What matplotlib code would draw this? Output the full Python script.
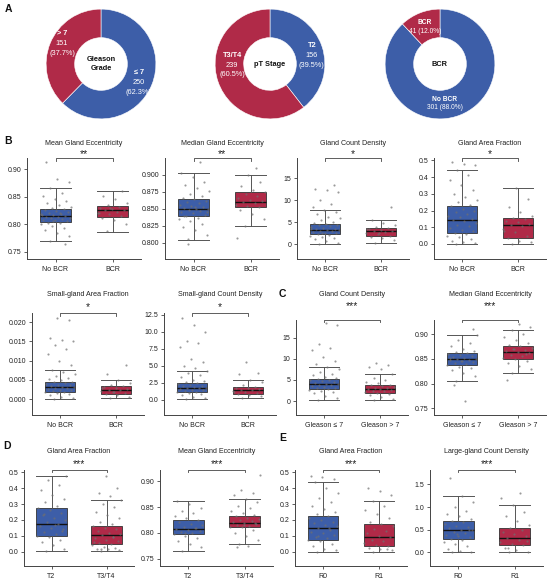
import matplotlib
matplotlib.use('Agg')
import matplotlib.pyplot as plt

plt.rcParams['font.family'] = ['Liberation Sans', 'DejaVu Sans']

W, H = 550, 583
BLUE = '#3d5ea8'
RED = '#b02a48'

# ---------------- donut data ----------------
gleason_labels = ['≤ 7', '> 7']
gleason_counts = [250, 151]
gleason_pcts = [62.3, 37.7]
pt_labels = ['T2', 'T3/T4']
pt_counts = [156, 239]
pt_pcts = [39.5, 60.5]
bcr_labels = ['No BCR', 'BCR']
bcr_counts = [301, 41]
bcr_pcts = [88.0, 12.0]

# ---------------- box panel data ----------------
# box stats: [whislo, q1, med, q3, whishi]
p1_title = 'Mean Gland Eccentricity'
p1_groups = ['No BCR', 'BCR']
p1_box_a = [0.769, 0.804, 0.815, 0.828, 0.865]
p1_box_b = [0.786, 0.814, 0.825, 0.833, 0.861]
p1_pts_a = [0.770, 0.778, 0.785, 0.790, 0.794, 0.797, 0.800, 0.802, 0.803, 0.805, 0.807, 0.808,
            0.810, 0.811, 0.812, 0.813, 0.814, 0.815, 0.816, 0.817, 0.819, 0.820, 0.822, 0.824,
            0.825, 0.827, 0.829, 0.832, 0.835, 0.838, 0.842, 0.846, 0.851, 0.857, 0.865, 0.876,
            0.882, 0.912, 0.765, 0.806, 0.818, 0.821]
p1_pts_b = [0.787, 0.800, 0.808, 0.812, 0.815, 0.818, 0.821, 0.823, 0.825, 0.826, 0.828, 0.830,
            0.832, 0.834, 0.838, 0.845, 0.852, 0.861, 0.829, 0.820]

p2_title = 'Median Gland Eccentricity'
p2_groups = ['No BCR', 'BCR']
p2_box_a = [0.804, 0.839, 0.850, 0.8645, 0.902]
p2_box_b = [0.824, 0.852, 0.860, 0.874, 0.899]
p2_pts_a = [0.805, 0.812, 0.818, 0.823, 0.828, 0.832, 0.835, 0.837, 0.839, 0.841, 0.843, 0.845,
            0.846, 0.848, 0.849, 0.850, 0.851, 0.852, 0.854, 0.856, 0.858, 0.860, 0.862, 0.864,
            0.866, 0.869, 0.872, 0.876, 0.880, 0.885, 0.890, 0.896, 0.902, 0.918, 0.798, 0.845,
            0.853, 0.840]
p2_pts_b = [0.824, 0.835, 0.842, 0.848, 0.852, 0.854, 0.856, 0.858, 0.860, 0.861, 0.863, 0.866,
            0.869, 0.872, 0.874, 0.878, 0.884, 0.890, 0.899, 0.807, 0.910]

p3_title = 'Gland Count Density'
p3_groups = ['No BCR', 'BCR']
p3_box_a = [0.0, 2.28, 3.35, 4.72, 7.9]
p3_box_b = [0.3, 1.83, 3.05, 3.73, 5.6]
p3_pts_a = [0.1, 0.4, 0.8, 1.2, 1.5, 1.8, 2.0, 2.2, 2.3, 2.5, 2.7, 2.9, 3.0, 3.1, 3.2, 3.3, 3.4,
            3.5, 3.7, 3.9, 4.1, 4.3, 4.5, 4.7, 4.9, 5.2, 5.5, 5.9, 6.3, 6.8, 7.3, 7.9, 8.5, 9.2,
            10.0, 12.0, 12.3, 12.5, 13.5, 2.6, 3.6]
p3_pts_b = [0.3, 0.9, 1.4, 1.8, 2.0, 2.3, 2.6, 2.9, 3.0, 3.1, 3.3, 3.5, 3.7, 3.9, 4.3, 4.8, 5.6,
            8.5, 2.5, 3.6]

p4_title = 'Gland Area Fraction'
p4_groups = ['No BCR', 'BCR']
p4_box_a = [0.0, 0.068, 0.142, 0.224, 0.444]
p4_box_b = [0.0, 0.038, 0.114, 0.158, 0.332]
p4_pts_a = [0.0, 0.005, 0.01, 0.02, 0.03, 0.04, 0.05, 0.06, 0.068, 0.075, 0.085, 0.095, 0.105,
            0.115, 0.125, 0.135, 0.142, 0.150, 0.160, 0.170, 0.180, 0.190, 0.200, 0.212, 0.224,
            0.235, 0.25, 0.265, 0.28, 0.30, 0.32, 0.35, 0.38, 0.41, 0.444, 0.47, 0.48, 0.49]
p4_pts_b = [0.0, 0.01, 0.02, 0.035, 0.05, 0.07, 0.09, 0.105, 0.114, 0.12, 0.13, 0.14, 0.15,
            0.158, 0.17, 0.19, 0.22, 0.27, 0.332, 0.08]

p5_title = 'Small-gland Area Fraction'
p5_groups = ['No BCR', 'BCR']
p5_box_a = [0.0, 0.0019, 0.0031, 0.00443, 0.00765]
p5_box_b = [0.0003, 0.0014, 0.0024, 0.0034, 0.0049]
p5_pts_a = [0.0, 0.0003, 0.0007, 0.001, 0.0013, 0.0016, 0.0018, 0.0019, 0.0021, 0.0023, 0.0025,
            0.0027, 0.0029, 0.003, 0.0031, 0.0032, 0.0034, 0.0036, 0.0038, 0.004, 0.0042, 0.0044,
            0.0046, 0.0049, 0.0052, 0.0056, 0.006, 0.0065, 0.0071, 0.0077, 0.0088, 0.0098, 0.0118,
            0.013, 0.014, 0.015, 0.0155, 0.016, 0.0205, 0.021]
p5_pts_b = [0.0003, 0.0007, 0.001, 0.0014, 0.0016, 0.0019, 0.0022, 0.0024, 0.0025, 0.0027, 0.003,
            0.0032, 0.0034, 0.0038, 0.0043, 0.0049, 0.0065, 0.009, 0.002, 0.0029]

p6_title = 'Small-gland Count Density'
p6_groups = ['No BCR', 'BCR']
p6_box_a = [0.1, 1.13, 1.72, 2.45, 4.26]
p6_box_b = [0.34, 0.88, 1.47, 1.86, 2.94]
p6_pts_a = [0.1, 0.3, 0.5, 0.7, 0.9, 1.0, 1.1, 1.2, 1.3, 1.4, 1.5, 1.6, 1.7, 1.75, 1.8, 1.9, 2.0,
            2.1, 2.2, 2.3, 2.45, 2.6, 2.8, 3.0, 3.3, 3.6, 3.9, 4.26, 4.7, 5.0, 5.5, 6.0, 7.8, 8.3,
            8.6, 10.0, 11.0, 12.0]
p6_pts_b = [0.34, 0.6, 0.8, 0.9, 1.0, 1.2, 1.35, 1.47, 1.5, 1.6, 1.7, 1.8, 1.9, 2.2, 2.6, 2.94,
            3.8, 4.0, 5.5, 1.1]

p7_title = 'Gland Count Density'
p7_groups = ['Gleason ≤ 7', 'Gleason > 7']
p7_box_a = [0.2, 2.84, 4.03, 5.29, 8.1]
p7_box_b = [0.2, 1.9, 2.84, 3.7, 6.3]
p7_pts_a = [0.2, 0.8, 1.3, 1.8, 2.2, 2.5, 2.7, 2.84, 3.0, 3.2, 3.4, 3.6, 3.8, 3.9, 4.0, 4.1, 4.3,
            4.5, 4.7, 4.9, 5.1, 5.29, 5.5, 5.8, 6.1, 6.5, 7.0, 7.5, 8.1, 8.8, 9.5, 10.5, 12.0,
            12.5, 13.5, 18.0, 18.5]
p7_pts_b = [0.2, 0.6, 1.0, 1.4, 1.7, 1.9, 2.1, 2.3, 2.5, 2.7, 2.8, 2.9, 3.0, 3.2, 3.4, 3.6, 3.7,
            3.9, 4.2, 4.6, 5.0, 5.5, 6.3, 7.5, 8.0, 8.5, 9.0]

p8_title = 'Median Gland Eccentricity'
p8_groups = ['Gleason ≤ 7', 'Gleason > 7']
p8_box_a = [0.8054, 0.837, 0.849, 0.8615, 0.898]
p8_box_b = [0.822, 0.8507, 0.8649, 0.8764, 0.909]
p8_pts_a = [0.806, 0.815, 0.822, 0.827, 0.831, 0.834, 0.837, 0.839, 0.841, 0.843, 0.845, 0.847,
            0.848, 0.849, 0.850, 0.852, 0.854, 0.856, 0.858, 0.860, 0.8615, 0.864, 0.867, 0.871,
            0.876, 0.882, 0.889, 0.898, 0.765, 0.798, 0.91, 0.845, 0.853]
p8_pts_b = [0.822, 0.830, 0.836, 0.842, 0.846, 0.8507, 0.853, 0.856, 0.859, 0.862, 0.864, 0.866,
            0.868, 0.870, 0.873, 0.8764, 0.879, 0.883, 0.888, 0.894, 0.901, 0.909, 0.915, 0.92,
            0.808, 0.86, 0.87]

p9_title = 'Gland Area Fraction'
p9_groups = ['T2', 'T3/T4']
p9_box_a = [0.004, 0.1008, 0.172, 0.273, 0.479]
p9_box_b = [0.004, 0.048, 0.103, 0.164, 0.326]
p9_pts_a = [0.004, 0.02, 0.04, 0.06, 0.075, 0.09, 0.1, 0.11, 0.125, 0.14, 0.15, 0.16, 0.172,
            0.185, 0.2, 0.215, 0.23, 0.245, 0.26, 0.273, 0.29, 0.31, 0.33, 0.36, 0.39, 0.42, 0.45,
            0.479, 0.17, 0.24, 0.13]
p9_pts_b = [0.004, 0.01, 0.015, 0.02, 0.025, 0.03, 0.04, 0.048, 0.055, 0.065, 0.075, 0.085,
            0.095, 0.103, 0.11, 0.12, 0.13, 0.14, 0.15, 0.164, 0.175, 0.19, 0.21, 0.23, 0.25,
            0.28, 0.30, 0.326, 0.35, 0.37, 0.40, 0.48, 0.06, 0.09, 0.02]

p10_title = 'Mean Gland Eccentricity'
p10_groups = ['T2', 'T3/T4']
p10_box_a = [0.7642, 0.7985, 0.8082, 0.8244, 0.8626]
p10_box_b = [0.7778, 0.8108, 0.8198, 0.8322, 0.8657]
p10_pts_a = [0.7645, 0.772, 0.779, 0.785, 0.790, 0.794, 0.7985, 0.800, 0.802, 0.804, 0.806, 0.808,
             0.810, 0.812, 0.815, 0.818, 0.821, 0.8244, 0.828, 0.833, 0.838, 0.843, 0.849, 0.856,
             0.8626, 0.81, 0.80]
p10_pts_b = [0.778, 0.787, 0.794, 0.800, 0.805, 0.8108, 0.812, 0.814, 0.816, 0.818, 0.8198, 0.821,
             0.823, 0.825, 0.827, 0.829, 0.8322, 0.835, 0.839, 0.843, 0.848, 0.853, 0.859, 0.8657,
             0.873, 0.878, 0.883, 0.912, 0.775, 0.773, 0.82, 0.815]

p11_title = 'Gland Area Fraction'
p11_groups = ['R0', 'R1']
p11_box_a = [0.0, 0.0756, 0.147, 0.2227, 0.441]
p11_box_b = [0.0, 0.0357, 0.090, 0.172, 0.319]
p11_pts_a = [0.0, 0.01, 0.02, 0.035, 0.05, 0.065, 0.0756, 0.085, 0.095, 0.105, 0.115, 0.125,
             0.135, 0.147, 0.16, 0.17, 0.18, 0.19, 0.2, 0.21, 0.2227, 0.235, 0.25, 0.27, 0.29,
             0.31, 0.34, 0.37, 0.40, 0.441, 0.46, 0.47, 0.48, 0.15, 0.1]
p11_pts_b = [0.0, 0.008, 0.015, 0.025, 0.0357, 0.045, 0.055, 0.065, 0.075, 0.09, 0.1, 0.115, 0.13,
             0.145, 0.16, 0.172, 0.19, 0.21, 0.235, 0.26, 0.29, 0.319, 0.36, 0.38, 0.40, 0.02]

p12_title = 'Large-gland Count Density'
p12_groups = ['R0', 'R1']
p12_box_a = [0.0, 0.30, 0.486, 0.70, 1.25]
p12_box_b = [0.0, 0.157, 0.314, 0.529, 1.036]
p12_pts_a = [0.0, 0.0, 0.03, 0.08, 0.13, 0.18, 0.23, 0.27, 0.30, 0.33, 0.36, 0.39, 0.42, 0.45,
             0.48, 0.5, 0.53, 0.56, 0.59, 0.62, 0.66, 0.70, 0.74, 0.79, 0.85, 0.92, 1.0, 1.1,
             1.25, 1.65, 0.5, 0.4]
p12_pts_b = [0.0, 0.0, 0.04, 0.09, 0.157, 0.19, 0.23, 0.27, 0.314, 0.35, 0.4, 0.45, 0.5, 0.529,
             0.6, 0.7, 0.8, 0.9, 1.036, 1.2, 1.3, 0.1, 0.25]

signif = ['**', '**', '*', '*', '*', '*', '***', '***', '***', '***', '***', '***']

fig = plt.figure(figsize=(W / 100, H / 100), dpi=100)


def px_axes(l, t, r, b):
    return fig.add_axes([l / W, 1 - b / H, (r - l) / W, (b - t) / H])


def ftext(x, y, s, **kw):
    fig.text(x / W, 1 - y / H, s, **kw)


# ---------------- donuts ----------------
def donut(cx, cy, counts, labels, pcts, center, positions, stacked):
    r = 56
    ax = px_axes(cx - r, cy - r, cx + r, cy + r)
    ax.pie(counts, colors=[BLUE, RED], startangle=90, counterclock=False, radius=1,
           wedgeprops=dict(width=0.52, edgecolor='white', linewidth=0.4))
    ax.set_xlim(-1.02, 1.02)
    ax.set_ylim(-1.02, 1.02)
    ax.text(0, 0, center, ha='center', va='center', fontsize=5.3, fontweight='bold',
            color='#111', linespacing=1.5)
    for lab, c, p, (x, y) in zip(labels, counts, pcts, positions):
        if stacked:
            ax.text(x, y + 0.18, lab, ha='center', va='center', fontsize=5.3,
                    fontweight='bold', color='white')
            ax.text(x, y, f'{c}', ha='center', va='center', fontsize=5.3, color='white')
            ax.text(x, y - 0.18, f'({p:.1f}%)', ha='center', va='center', fontsize=5.3,
                    color='white')
        else:
            ax.text(x, y + 0.08, lab, ha='center', va='center', fontsize=4.8,
                    fontweight='bold', color='white')
            ax.text(x, y - 0.08, f'{c} ({p:.1f}%)', ha='center', va='center', fontsize=4.8,
                    color='white')


donut(101, 64, gleason_counts, gleason_labels, gleason_pcts, 'Gleason\nGrade',
      [(0.69, -0.33), (-0.71, 0.38)], True)
donut(270, 64, pt_counts, pt_labels, pt_pcts, 'pT Stage',
      [(0.76, 0.16), (-0.69, -0.02)], True)
donut(440, 64, bcr_counts, bcr_labels, bcr_pcts, 'BCR',
      [(0.09, -0.72), (-0.27, 0.67)], False)


# ---------------- box panels ----------------
def box_panel(rect, title, groups, box_a, box_b, pts_a, pts_b, ylim, yticks, fmt,
              title_y, star_y, star):
    ax = px_axes(*rect)
    stats = []
    for bx in (box_a, box_b):
        stats.append(dict(whislo=bx[0], q1=bx[1], med=bx[2], q3=bx[3], whishi=bx[4], fliers=[]))
    bp = ax.bxp(stats, positions=[0, 1], widths=0.55, capwidths=0.55, patch_artist=True,
                showfliers=False,
                boxprops=dict(edgecolor='#333333', linewidth=0.6),
                medianprops=dict(color='#111111', linewidth=1.0),
                whiskerprops=dict(color='#555555', linewidth=0.7),
                capprops=dict(color='#555555', linewidth=0.7))
    for patch, col in zip(bp['boxes'], [BLUE, RED]):
        patch.set_facecolor(col)
    for pos, pts in ((0, pts_a), (1, pts_b)):
        xs = [pos + ((i * 0.6180339887 + 0.31) % 1.0 - 0.5) * 0.54 for i in range(len(pts))]
        ax.scatter(xs, pts, s=2.4, color='#707070', alpha=0.7, linewidths=0, zorder=5)
    ax.set_xlim(-0.5, 1.5)
    ax.set_ylim(*ylim)
    ax.set_yticks(yticks)
    ax.set_yticklabels([fmt.format(v) for v in yticks])
    ax.set_xticks([0, 1])
    ax.set_xticklabels(groups)
    for s in ('top', 'right'):
        ax.spines[s].set_visible(False)
    for s in ('left', 'bottom'):
        ax.spines[s].set_color('#444444')
        ax.spines[s].set_linewidth(0.7)
    ax.tick_params(axis='both', labelsize=5, length=2.5, width=0.6, color='#444444',
                   pad=1.5, labelcolor='#222222')
    ax.tick_params(axis='x', pad=2.5)
    top = ylim[1]
    d = (ylim[1] - ylim[0]) * 0.025
    ax.plot([0, 0, 1, 1], [top - d, top, top, top - d], color='#444444', lw=0.6,
            clip_on=False)
    cx = (rect[0] + rect[2]) / 2
    ftext(cx, title_y, title, ha='center', va='center', fontsize=5.1, color='#222222')
    ftext(cx, star_y + 1.5, star, ha='center', va='center', fontsize=7.5, color='#222222')
    return ax


panels = [
    ((27, 158, 141, 259), p1_title, p1_groups, p1_box_a, p1_box_b, p1_pts_a, p1_pts_b,
     (0.737, 0.92), [0.75, 0.80, 0.85, 0.90], '{:.2f}', 143.5, 153),
    ((165, 158, 279, 259), p2_title, p2_groups, p2_box_a, p2_box_b, p2_pts_a, p2_pts_b,
     (0.776, 0.9246), [0.800, 0.825, 0.850, 0.875, 0.900], '{:.3f}', 143.5, 153),
    ((297, 158, 409, 259), p3_title, p3_groups, p3_box_a, p3_box_b, p3_pts_a, p3_pts_b,
     (-3.3, 19.6), [0, 5, 10, 15], '{:.0f}', 143.5, 153),
    ((434, 158, 546, 259), p4_title, p4_groups, p4_box_a, p4_box_b, p4_pts_a, p4_pts_b,
     (-0.09, 0.514), [0.0, 0.1, 0.2, 0.3, 0.4, 0.5], '{:.1f}', 143.5, 153),
    ((32, 313, 144, 415), p5_title, p5_groups, p5_box_a, p5_box_b, p5_pts_a, p5_pts_b,
     (-0.0041, 0.0224), [0.0, 0.005, 0.010, 0.015, 0.020], '{:.3f}', 294, 306),
    ((164, 313, 276, 415), p6_title, p6_groups, p6_box_a, p6_box_b, p6_pts_a, p6_pts_b,
     (-2.2, 12.75), [0.0, 2.5, 5.0, 7.5, 10.0, 12.5], '{:.1f}', 294, 306),
    ((296, 320, 408, 415), p7_title, p7_groups, p7_box_a, p7_box_b, p7_pts_a, p7_pts_b,
     (-3.3, 19.2), [0, 5, 10, 15], '{:.0f}', 294, 305),
    ((434, 320, 546, 415), p8_title, p8_groups, p8_box_a, p8_box_b, p8_pts_a, p8_pts_b,
     (0.7365, 0.929), [0.75, 0.80, 0.85, 0.90], '{:.2f}', 294, 305),
    ((24, 470, 134, 566), p9_title, p9_groups, p9_box_a, p9_box_b, p9_pts_a, p9_pts_b,
     (-0.09, 0.5147), [0.0, 0.1, 0.2, 0.3, 0.4, 0.5], '{:.1f}', 451.7, 463),
    ((160, 470, 273, 566), p10_title, p10_groups, p10_box_a, p10_box_b, p10_pts_a, p10_pts_b,
     (0.7358, 0.9219), [0.75, 0.80, 0.85, 0.90], '{:.2f}', 451.7, 463),
    ((295, 470, 407, 566), p11_title, p11_groups, p11_box_a, p11_box_b, p11_pts_a, p11_pts_b,
     (-0.09, 0.5147), [0.0, 0.1, 0.2, 0.3, 0.4, 0.5], '{:.1f}', 451.7, 463),
    ((430, 470, 543, 566), p12_title, p12_groups, p12_box_a, p12_box_b, p12_pts_a, p12_pts_b,
     (-0.307, 1.82), [0.0, 0.5, 1.0, 1.5], '{:.1f}', 451.7, 463),
]

for i, p in enumerate(panels):
    box_panel(*p, signif[i])

# panel letters
for letter, x, y in (('A', 8, 9.5), ('B', 8, 141), ('C', 282, 294), ('D', 7, 446), ('E', 283, 438)):
    ftext(x, y, letter, ha='center', va='center', fontsize=7.5, fontweight='bold', color='#111')

fig.savefig('out.png', dpi=100)
